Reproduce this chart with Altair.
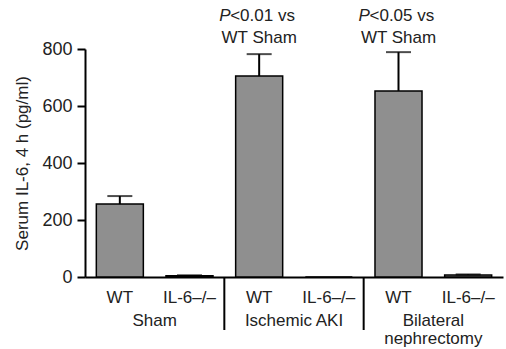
import altair as alt
import pandas as pd

groups = ["Sham", "Ischemic AKI", "Bilateral\nnephrectomy"]
genotypes = ["WT", "IL-6\u2013/\u2013"]
group_of_bar = [0, 0, 1, 1, 2, 2]
geno_of_bar = [0, 1, 0, 1, 0, 1]
means = [256, 4, 705, 0, 653, 7]
err_tops = [284, 6, 782, 0, 789, 9]
y_ticks = [0, 200, 400, 600, 800]

ann_bars = [2, 4]
ann_p = ["P", "P"]
ann_rest = ["<0.01 vs", "<0.05 vs"]
ann_line2 = ["WT Sham", "WT Sham"]

keys = [f"{i}|{genotypes[g]}" for i, g in enumerate(geno_of_bar)]
bars = pd.DataFrame({
    "key": keys,
    "mean": means,
    "top": err_tops,
})
grp = pd.DataFrame({
    "anchor": [keys[2 * i + 1] for i in range(3)],
    "label": groups,
})
sep = pd.DataFrame({"anchor": [keys[2], keys[4]]})
ann = pd.DataFrame({
    "anchor": [keys[i] for i in ann_bars],
    "p": ann_p,
    "rest": ann_rest,
    "line2": ann_line2,
})

FONT = "Liberation Sans"
TXT = "#222222"
W, H = 418, 228

xscale = alt.Scale(domain=keys, paddingInner=0, paddingOuter=0)
x_axis = alt.Axis(
    title=None, ticks=False, labelExpr="split(datum.value, '|')[1]",
    labelAngle=0, labelFontSize=17, labelFont=FONT, labelColor=TXT,
    labelPadding=12, domainColor="black", domainWidth=2,
)
y_axis = alt.Axis(
    title="Serum IL-6, 4 h (pg/ml)", values=y_ticks, grid=False,
    tickSize=8, tickWidth=2, tickColor="black", domainColor="black",
    domainWidth=2, labelFontSize=18, labelFont=FONT, labelColor=TXT,
    labelPadding=5, titleFontSize=17, titleFont=FONT, titleColor=TXT,
    titleFontWeight="normal", titlePadding=10,
)
yscale = alt.Scale(domain=[0, 800], nice=False)

base = alt.Chart(bars)

bar = base.mark_bar(color="#8f8f8f", stroke="black", strokeWidth=1.5,
                    width=alt.RelativeBandSize(0.675)).encode(
    x=alt.X("key:N", scale=xscale, axis=x_axis, sort=keys),
    y=alt.Y("mean:Q", scale=yscale, axis=y_axis),
)

err = base.transform_filter("datum.top > datum.mean").mark_rule(
    color="black", strokeWidth=2
).encode(
    x=alt.X("key:N", sort=keys),
    y="mean:Q",
    y2="top:Q",
)
cap = base.transform_filter("datum.top > datum.mean").mark_tick(
    color="black", thickness=2, size=25
).encode(
    x=alt.X("key:N", sort=keys),
    y="top:Q",
)

seps = alt.Chart(sep).mark_rule(color="black", strokeWidth=2).encode(
    x=alt.X("anchor:N", bandPosition=0, sort=keys),
    y=alt.value(H),
    y2=alt.value(H + 53),
)

glabels = alt.Chart(grp).mark_text(
    font=FONT, fontSize=17, color=TXT, baseline="top", align="center",
    lineBreak="\n", lineHeight=18,
).encode(
    x=alt.X("anchor:N", bandPosition=0, sort=keys),
    y=alt.value(H + 36),
    text="label:N",
)

p_txt = alt.Chart(ann).mark_text(
    font=FONT, fontSize=17, color=TXT, fontStyle="italic", align="left",
    baseline="middle", dx=-40,
).encode(x=alt.X("anchor:N", sort=keys), y=alt.value(-33), text="p:N")
rest_txt = alt.Chart(ann).mark_text(
    font=FONT, fontSize=17, color=TXT, align="left", baseline="middle", dx=-29,
).encode(x=alt.X("anchor:N", sort=keys), y=alt.value(-33), text="rest:N")
l2_txt = alt.Chart(ann).mark_text(
    font=FONT, fontSize=17, color=TXT, align="center", baseline="middle",
).encode(x=alt.X("anchor:N", sort=keys), y=alt.value(-11), text="line2:N")

chart = alt.layer(bar, err, cap, seps, glabels, p_txt, rest_txt, l2_txt).properties(
    width=W, height=H,
    background="white",
    autosize=alt.AutoSizeParams(type="none"),
    padding={"left": 85, "top": 49, "right": 3, "bottom": 72},
).configure_view(stroke=None)

chart.save("out.html", embed_options={"renderer": "svg", "actions": False})
